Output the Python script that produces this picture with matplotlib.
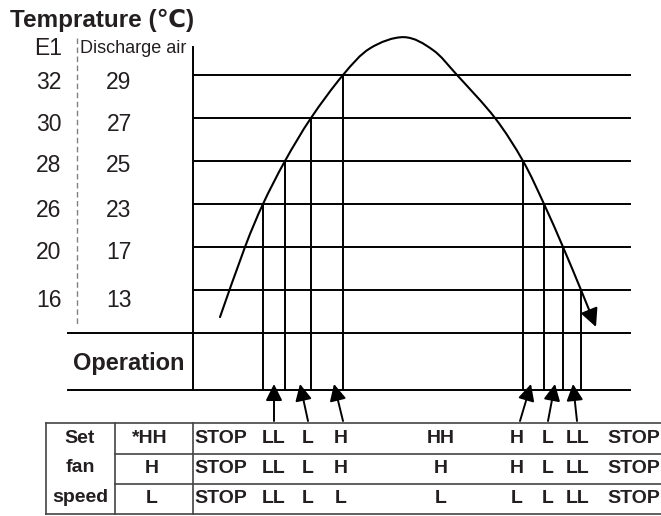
import matplotlib.pyplot as plt
import numpy as np
from matplotlib.path import Path
from matplotlib.patches import FancyArrowPatch

plt.rcParams['font.family'] = ['Liberation Sans', 'DejaVu Sans']

# temperature rows, bottom to top
e1_temps = [16, 20, 26, 28, 30, 32]
air_temps = [13, 17, 23, 25, 27, 29]

# temperature curve: x position and height in rows (0 = 13C row)
curve_x = [220, 245, 263, 285, 311, 343, 370, 404, 433, 457, 495, 523, 544, 563, 581, 596]
curve_row = [-0.63, 1, 2, 3, 4, 5, 5.62, 5.88, 5.58, 5, 4, 3, 2, 1, 0, -0.86]

# where the curve crosses the rows on the way up and down
rise_x = [263, 285, 311, 343]
rise_row = [2, 3, 4, 5]
fall_x = [523, 544, 563, 581]
fall_row = [3, 2, 1, 0]

# speed change arrows under the operation band
arrow_tail_x = [274, 308, 343, 520, 548, 577]
arrow_tip_x = [274, 300, 334, 531, 555, 573]

# fan speed table
set_speeds = ['*HH', 'H', 'L']
speeds_hh = ['STOP', 'LL', 'L', 'H', 'HH', 'H', 'L', 'LL', 'STOP']
speeds_h = ['STOP', 'LL', 'L', 'H', 'H', 'H', 'L', 'LL', 'STOP']
speeds_l = ['STOP', 'LL', 'L', 'L', 'L', 'L', 'L', 'LL', 'STOP']
stage_x = [194, 274, 308, 341, 441, 517, 548, 578, 607]

TXT = '#231f20'
ROW0 = 290
ROW_H = 43
RIGHT = 630
OP_TOP = 333
OP_BOT = 390


def row_y(r):
    return ROW0 - ROW_H * np.asarray(r, dtype=float)


def smooth_path(xs, ys):
    # catmull-rom through the points, as cubic bezier segments
    pts = np.column_stack([xs, ys]).astype(float)
    ext = np.vstack([pts[0], pts, pts[-1]])
    verts = [pts[0]]
    codes = [Path.MOVETO]
    for i in range(len(pts) - 1):
        p0, p1, p2, p3 = ext[i], ext[i + 1], ext[i + 2], ext[i + 3]
        verts += [p1 + (p2 - p0) / 6, p2 - (p3 - p1) / 6, p2]
        codes += [Path.CURVE4] * 3
    return Path(verts, codes)


fig = plt.figure(figsize=(6.61, 5.16), dpi=100)
ax = fig.add_axes([0, 0, 1, 1])
ax.set_xlim(0, 661)
ax.set_ylim(516, 0)
ax.axis('off')

# title and scale labels
ax.text(10, 27, 'Temprature (℃)', fontsize=17.5, fontweight='bold', color=TXT)
ax.text(48.5, 55, 'E1', fontsize=16.5, ha='center', color=TXT)
ax.text(80, 53, 'Discharge air', fontsize=13, color=TXT)
ax.plot([76.5, 76.5], [38, 325], color='#808080', lw=1.0, dashes=(4, 2.5))

label_base_y = [307, 259, 217, 172, 131, 89]
for t_e1, t_air, by in zip(e1_temps, air_temps, label_base_y):
    ax.text(49, by, str(t_e1), fontsize=16.5, ha='center', color=TXT)
    ax.text(119, by, str(t_air), fontsize=16.5, ha='center', color=TXT)

# grid rows
for r in range(len(air_temps)):
    y = row_y(r)
    ax.plot([193, RIGHT], [y, y], color='k', lw=1.4)
ax.plot([68, RIGHT], [OP_TOP, OP_TOP], color='k', lw=1.4)
ax.plot([68, RIGHT], [OP_BOT, OP_BOT], color='k', lw=1.4)
ax.plot([193, 193], [47, OP_BOT], color='k', lw=1.4)
ax.text(73, 370, 'Operation', fontsize=17, fontweight='bold', color=TXT)

# drop lines from the curve crossings
for x, r in zip(rise_x + fall_x, rise_row + fall_row):
    ax.plot([x, x], [row_y(r), OP_BOT], color='k', lw=1.4)

# temperature curve with arrow head
curve = FancyArrowPatch(path=smooth_path(curve_x, row_y(curve_row)),
                        arrowstyle='-|>,head_length=0.55,head_width=0.27',
                        mutation_scale=20, lw=1.5, color='k')
ax.add_patch(curve)

for tail, tip in zip(arrow_tail_x, arrow_tip_x):
    ax.annotate('', xy=(tip, 384), xytext=(tail, 421),
                arrowprops=dict(arrowstyle='-|>,head_length=0.5,head_width=0.25',
                                mutation_scale=20, lw=1.4, color='k',
                                shrinkA=0, shrinkB=0))

# table
tbl = dict(color='#444444', lw=1.2)
row_edges = [423, 454, 484, 514]
ax.plot([46, 661], [row_edges[0], row_edges[0]], **tbl)
ax.plot([46, 661], [row_edges[-1], row_edges[-1]], **tbl)
for y in row_edges[1:-1]:
    ax.plot([115, 661], [y, y], **tbl)
for x in [46, 115, 193]:
    ax.plot([x, x], [row_edges[0], row_edges[-1]], **tbl)

bold = dict(fontsize=14, fontweight='bold', color=TXT)
for word, y in zip(['Set', 'fan', 'speed'], [443, 472, 502]):
    ax.text(80, y, word, ha='center', **bold)

for k, (setting, speeds) in enumerate(zip(set_speeds, [speeds_hh, speeds_h, speeds_l])):
    by = row_edges[k + 1] - 11
    if setting.startswith('*'):
        ax.text(168, by, setting, ha='right', **bold)
    else:
        ax.text(152, by, setting, ha='center', **bold)
    for x, s in zip(stage_x, speeds):
        ha = 'left' if s == 'STOP' else 'center'
        ax.text(x, by, s, ha=ha, **bold)

fig.savefig('out.png', dpi=100)
